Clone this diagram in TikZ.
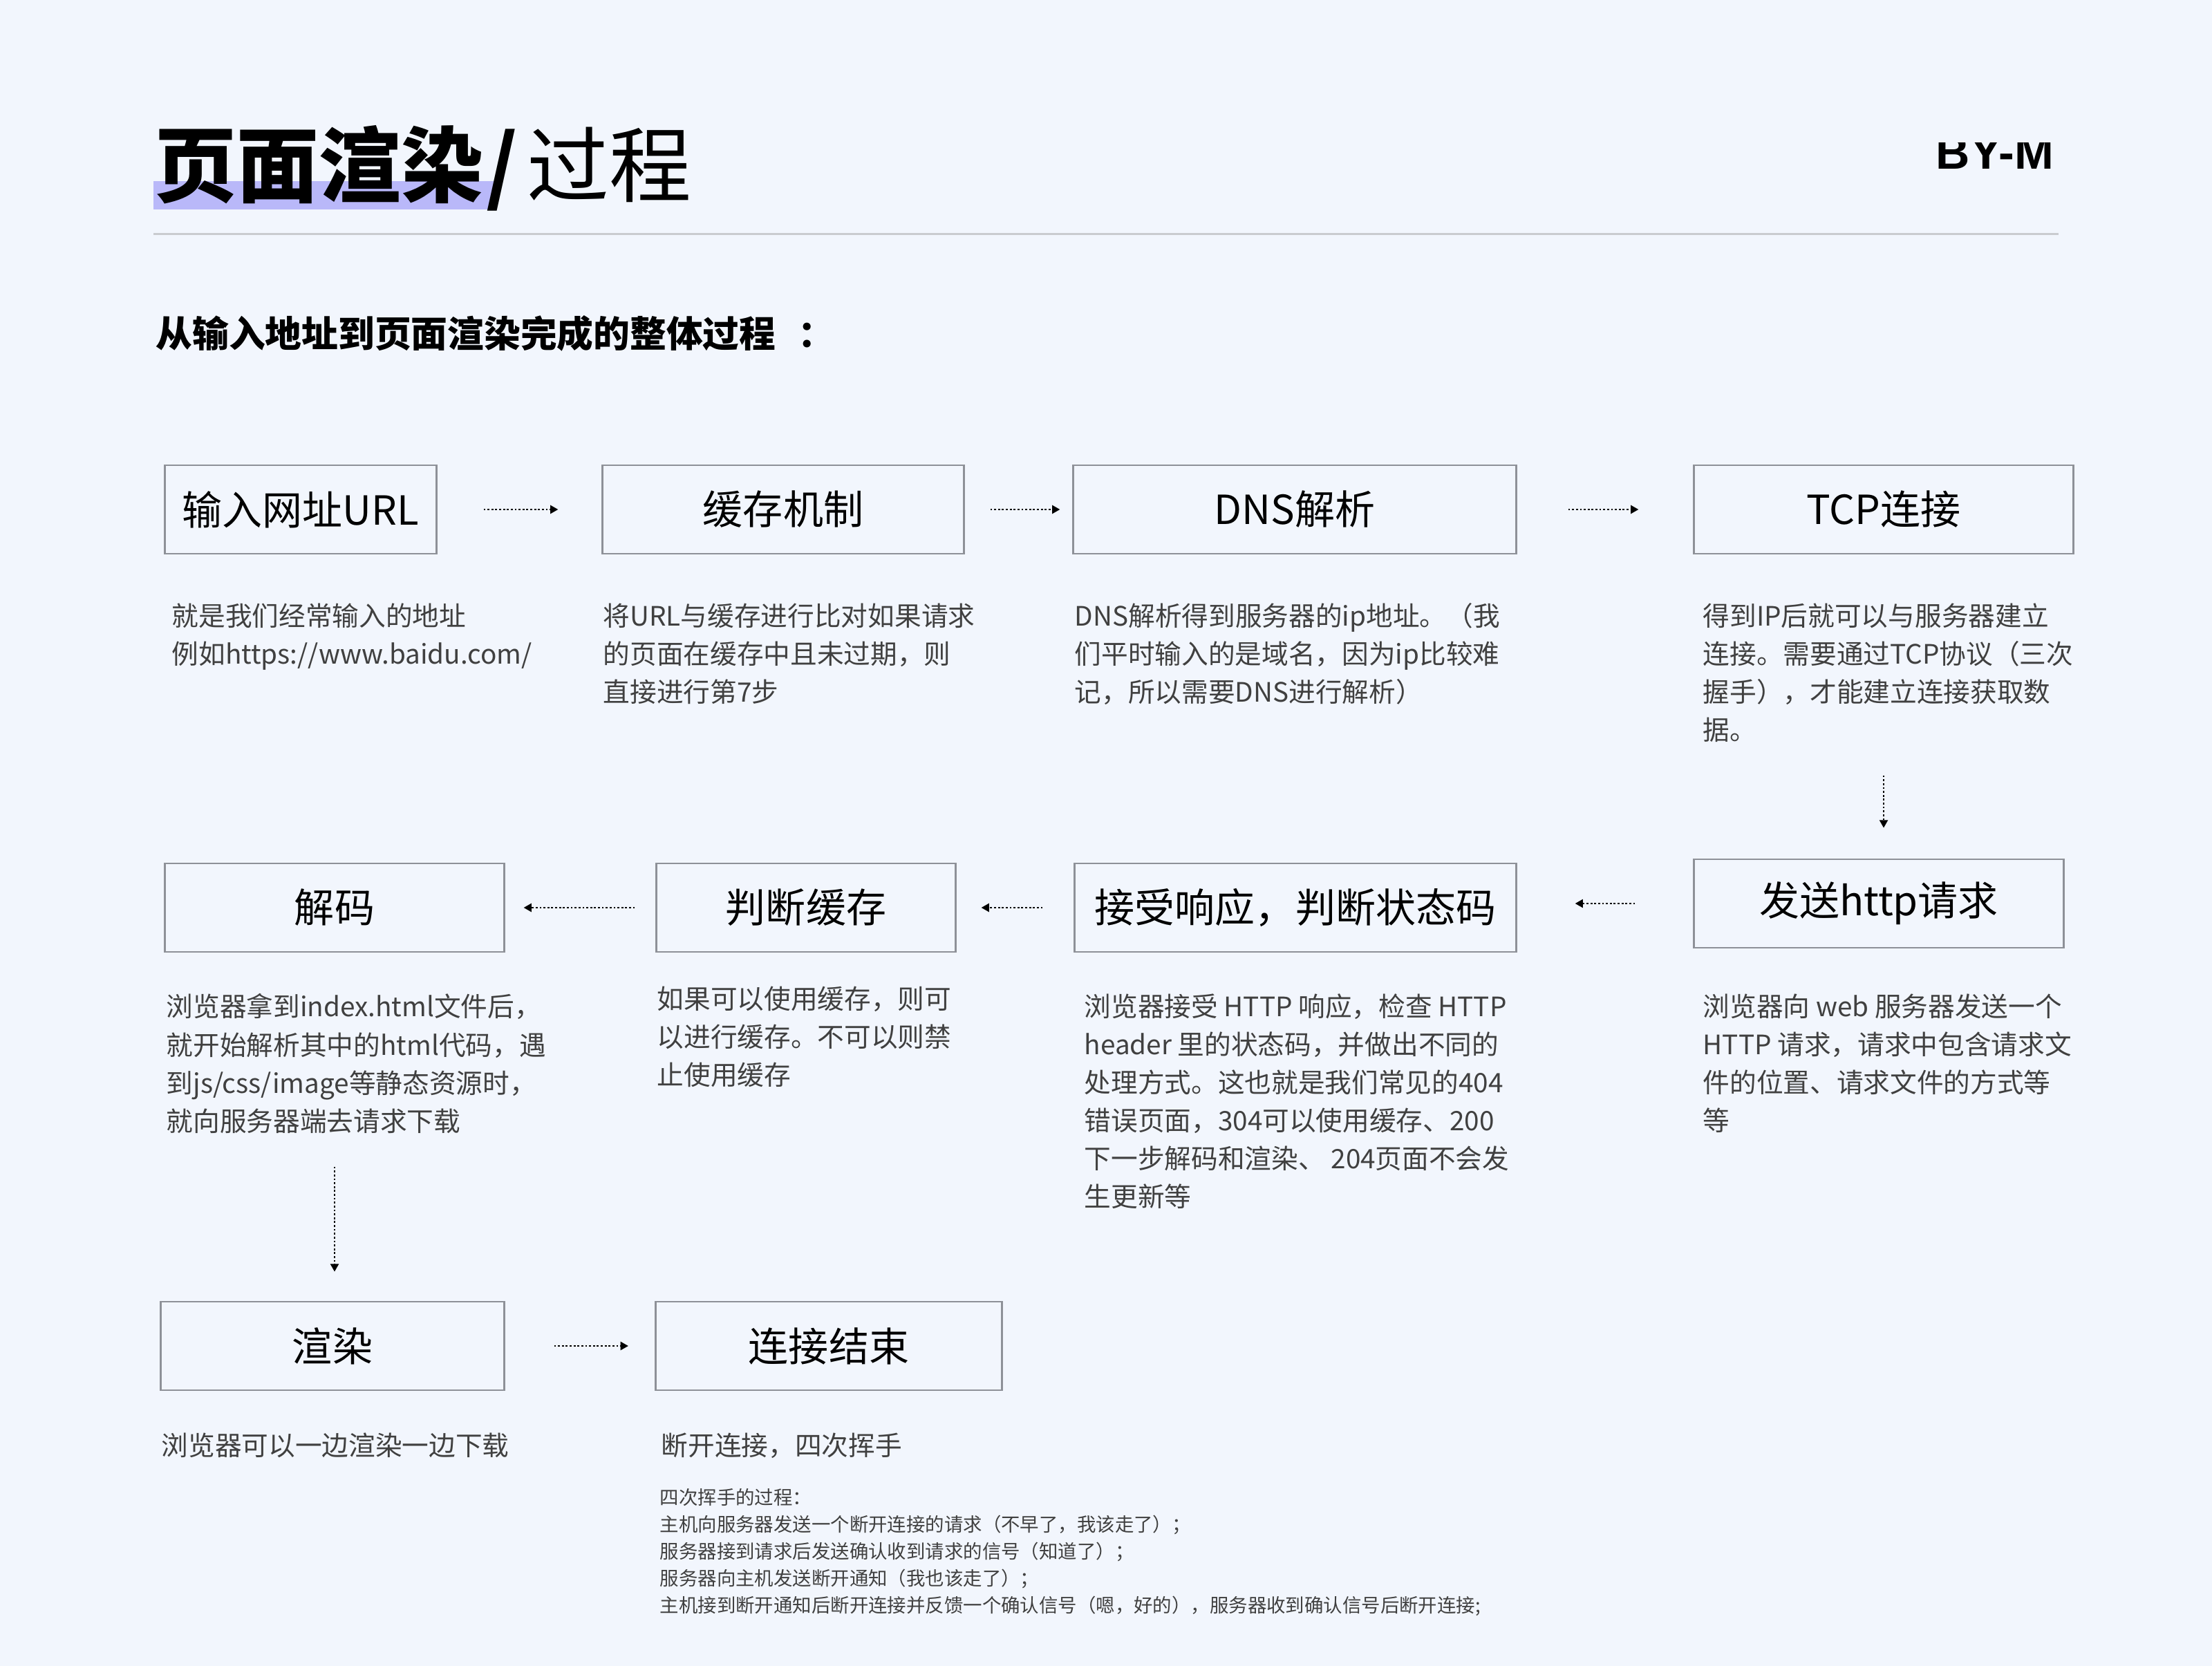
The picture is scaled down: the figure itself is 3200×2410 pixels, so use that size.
\documentclass[tikz,border=0pt]{standalone}
\usepackage{fontspec}
\setmainfont{Noto Sans CJK SC}
\newfontfamily\logofont{Liberation Sans}
\usetikzlibrary{arrows.meta}

\definecolor{pagebg}{HTML}{F2F6FD}
\definecolor{boxgray}{HTML}{8E9198}
\definecolor{rulegray}{HTML}{C9CBCF}
\definecolor{marker}{HTML}{B9B8F9}
\definecolor{desctext}{HTML}{404040}

\tikzset{
    stepbox/.style={draw=boxgray, line width=0.8pt, inner sep=0pt,
        minimum height=1.28cm, font=\fontsize{16.5}{20}\selectfont},
    desc/.style={anchor=north west, align=left, inner sep=0pt, text=desctext,
        font=\fontsize{11}{15.65}\selectfont},
    flow/.style={line width=0.7pt, dash pattern=on 0.8pt off 0.8pt,
        -{Triangle[length=3.2pt,width=3.4pt]}},
}

\begin{document}
\begin{tikzpicture}[x=0.01cm,y=-0.01cm]
    % Page
    \fill[pagebg] (0,0) rectangle (3200,2410);
    \useasboundingbox (0,0) rectangle (3200,2410);

    % Heading
    \fill[marker] (222,262) rectangle (714,303);
    \node[anchor=base west, inner sep=0pt, font=\fontsize{33.8}{40}\selectfont\bfseries] (title) at (223,284) {页面渲染\hspace{0.04cm}/};
    \node[anchor=base west, inner sep=0pt, xshift=0.12cm, font=\fontsize{33.8}{40}\selectfont] (titletail) at (title.base east) {过程};
    \begin{scope}
        \clip (2770,207) rectangle (3000,262);
        \node[anchor=base, inner sep=0pt, font=\fontsize{19.4}{22}\selectfont\logofont\bfseries] (logo) at (2886,245) {BY-M};
    \end{scope}
    \draw[rulegray, line width=0.85pt] (222,339) -- (2978,339);

    \node[anchor=base west, inner sep=0pt, font=\fontsize{15}{18}\selectfont\bfseries] (subtitle) at (225,503) {从输入地址到页面渲染完成的整体过程\hspace{0.6em}：};

    % Steps
    \node[stepbox, minimum width=3.92cm] (url) at (435,737) {输入网址URL};
    \node[stepbox, minimum width=5.22cm] (cache) at (1133,737) {缓存机制};
    \node[stepbox, minimum width=6.40cm] (dns) at (1873,737) {DNS解析};
    \node[stepbox, minimum width=5.48cm] (tcp) at (2725,737) {TCP连接};

    \node[stepbox, minimum width=5.34cm] (http) at (2718,1307) {发送http请求};
    \node[stepbox, minimum width=6.38cm] (response) at (1874,1313) {接受响应，判断状态码};
    \node[stepbox, minimum width=4.32cm] (checkcache) at (1166,1313) {判断缓存};
    \node[stepbox, minimum width=4.90cm] (decode) at (484,1313) {解码};

    \node[stepbox, minimum width=4.96cm] (render) at (481,1947) {渲染};
    \node[stepbox, minimum width=5.01cm] (close) at (1199,1947) {连接结束};

    % Descriptions
    \node[desc] (urltext) at (248,872) {就是我们经常输入的地址\\例如https://www.baidu.com/};
    \node[desc] (cachetext) at (872,872) {将URL与缓存进行比对如果请求\\的页面在缓存中且未过期，则\\直接进行第7步};
    \node[desc] (dnstext) at (1554,872) {DNS解析得到服务器的ip地址。（我\\们平时输入的是域名，因为ip比较难\\记，所以需要DNS进行解析）};
    \node[desc] (tcptext) at (2463,872) {得到IP后就可以与服务器建立\\连接。需要通过TCP协议（三次\\握手），才能建立连接获取数\\据。};

    \node[desc] (httptext) at (2463,1437) {浏览器向 web 服务器发送一个\\HTTP 请求，请求中包含请求文\\件的位置、请求文件的方式等\\等};
    \node[desc] (responsetext) at (1568,1437) {浏览器接受 HTTP 响应，检查 HTTP\\header 里的状态码，并做出不同的\\处理方式。这也就是我们常见的404\\错误页面，304可以使用缓存、200\\下一步解码和渲染、 204页面不会发\\生更新等};
    \node[desc] (checkcachetext) at (950,1426) {如果可以使用缓存，则可\\以进行缓存。不可以则禁\\止使用缓存};
    \node[desc] (decodetext) at (240,1437) {浏览器拿到index.html文件后，\\就开始解析其中的html代码，遇\\到js/css/image等静态资源时，\\就向服务器端去请求下载};

    \node[desc] (rendertext) at (233,2072) {浏览器可以一边渲染一边下载};
    \node[desc] (closetext) at (956,2072) {断开连接，四次挥手};
    \node[desc, font=\fontsize{7.8}{11.04}\selectfont] (wavenote) at (954,2153) {四次挥手的过程：\\主机向服务器发送一个断开连接的请求（不早了，我该走了）；\\服务器接到请求后发送确认收到请求的信号（知道了）；\\服务器向主机发送断开通知（我也该走了）；\\主机接到断开通知后断开连接并反馈一个确认信号（嗯，好的），服务器收到确认信号后断开连接;};

    % Arrows
    \draw[flow, shorten <=0.67cm, shorten >=0.63cm] (url) -- (cache);
    \draw[flow, shorten <=0.37cm, shorten >=0.18cm] (cache) -- (dns);
    \draw[flow, shorten <=0.74cm, shorten >=0.79cm] (dns) -- (tcp);
    \draw[flow, shorten <=3.19cm, shorten >=0.44cm] (tcp.south) -- (tcp.south |- http.north);
    \draw[flow, shorten <=0.84cm, shorten >=0.84cm] (http.west) -- (http.west -| response.east);
    \draw[flow, shorten <=0.45cm, shorten >=0.36cm] (response) -- (checkcache);
    \draw[flow, shorten <=0.30cm, shorten >=0.27cm] (checkcache) -- (decode);
    \draw[flow, shorten <=3.09cm, shorten >=0.42cm] (decode.south) -- (decode.south |- render.north);
    \draw[flow, shorten <=0.71cm, shorten >=0.38cm] (render) -- (close);
\end{tikzpicture}
\end{document}
